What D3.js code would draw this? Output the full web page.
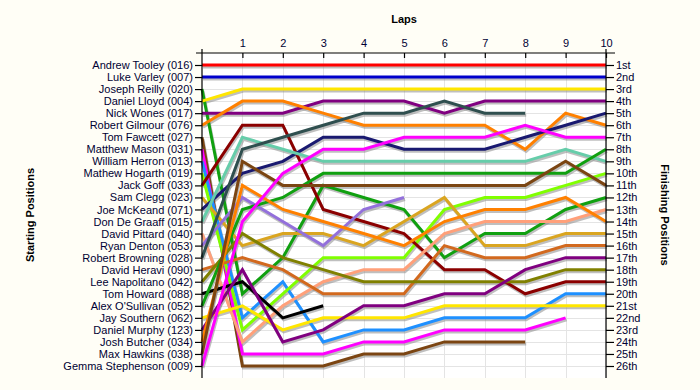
<!DOCTYPE html>
<html><head><meta charset="utf-8">
<script src="https://cdn.jsdelivr.net/npm/d3@7"></script>
<style>
html,body{margin:0;padding:0;background:#fffef6;}
svg{display:block;}
text{font-family:"Liberation Sans",Arial,sans-serif;}
</style></head>
<body>
<svg id="chart" width="700" height="390"></svg>
<script>
const drivers = ["Andrew Tooley (016)","Luke Varley (007)","Joseph Reilly (020)","Daniel Lloyd (004)","Nick Wones (017)","Robert Gilmour (076)","Tom Fawcett (027)","Matthew Mason (031)","William Herron (013)","Mathew Hogarth (019)","Jack Goff (033)","Sam Clegg (023)","Joe McKeand (071)","Don De Graaff (015)","David Pittard (040)","Ryan Denton (053)","Robert Browning (028)","David Heravi (090)","Lee Napolitano (042)","Tom Howard (088)","Alex O'Sullivan (052)","Jay Southern (062)","Daniel Murphy (123)","Josh Butcher (034)","Max Hawkins (038)","Gemma Stephenson (009)"];
const colors = ["#ff0000","#0000cc","#10a010","#ffe600","#800080","#ff8000","#7b4512","#ff00ff","#1e90ff","#80ff00","#8b0000","#daa520","#191970","#66cdaa","#ffa07a","#9370db","#2f4f4f","#d2691e","#808000","#000000","#10a010","#ffe600","#800080","#ff8000","#7b4512","#ff00ff"];
// position of each driver at lap 0..n (lap 0 = starting grid)
const positions = [
  [1,1,1,1,1,1,1,1,1,1,1],
  [2,2,2,2,2,2,2,2,2,2,2],
  [3,20,17,11,12,13,17,15,15,13,12],
  [4,3,3,3,3,3,3,3,3,3,3],
  [5,5,5,4,4,4,5,4,4,4,4],
  [6,4,4,5,6,6,6,6,8,5,6],
  [7,26,26,26,25,25,24,24,24],
  [8,25,25,25,24,24,23,23,23,22],
  [9,22,19,24,23,23,22,22,22,20,20],
  [10,23,20,17,17,17,13,12,12,11,10],
  [11,6,6,13,14,15,18,18,20,19,19],
  [12,16,15,15,16,14,12,16,16,15,15],
  [13,10,9,7,7,8,8,8,7,6,5],
  [14,7,8,9,9,9,9,9,9,8,9],
  [15,24,21,19,18,18,15,14,14,14,13],
  [16,12,14,16,13,12],
  [17,8,7,6,5,5,4,5,5],
  [18,17,18,20,20,20,16,17,17,16,16],
  [19,15,17,18,19,19,19,19,19,18,18],
  [20,19,22,21],
  [21,13,12,10,10,10,10,10,10,10,8],
  [22,21,23,22,22,22,21,21,21,21,21],
  [23,18,24,23,21,21,20,20,18,17,17],
  [24,11,13,14,15,16,14,13,13,12,14],
  [25,9,11,11,11,11,11,11,11,9,11],
  [26,14,10,8,8,7,7,7,6,7,7]
];
const lapTicks = [1,2,3,4,5,6,7,8,9,10];
const finishLabels = ["1st","2nd","3rd","4th","5th","6th","7th","8th","9th","10th","11th","12th","13th","14th","15th","16th","17th","18th","19th","20th","21st","22nd","23rd","24th","25th","26th"];

const svg = d3.select("#chart");
const x = d3.scaleLinear().domain([0,10]).range([202,606]);
const y = d3.scaleLinear().domain([1,26]).range([65,366]);
const yTop = 53, yBottom = 378;
const rows = d3.range(1,27);

// plot background
svg.append("rect").attr("x",x(0)).attr("y",yTop).attr("width",x(10)-x(0)).attr("height",yBottom-yTop).attr("fill","#ffffff");

// grid
const grid = svg.append("g").attr("stroke","#e4e4e4").attr("stroke-width",1);
grid.selectAll("line.h").data(rows).join("line").attr("class","h")
  .attr("x1",x(0)).attr("x2",x(10)).attr("y1",d=>Math.round(y(d))+0.5).attr("y2",d=>Math.round(y(d))+0.5);
grid.selectAll("line.v").data(lapTicks).join("line").attr("class","v")
  .attr("x1",d=>Math.round(x(d))+0.5).attr("x2",d=>Math.round(x(d))+0.5).attr("y1",yTop).attr("y2",yBottom);

// lines
const line = d3.line().x((d,i)=>x(i)).y(d=>y(d)).curve(d3.curveLinear);
const shadows = svg.append("g").attr("transform","translate(1,2)");
shadows.selectAll("path").data(positions).join("path")
  .attr("d",line).attr("fill","none").attr("stroke","#8a8a8a").attr("stroke-opacity",0.55).attr("stroke-width",3);
svg.append("g").selectAll("path").data(positions).join("path")
  .attr("d",line).attr("fill","none").attr("stroke",(d,i)=>colors[i]).attr("stroke-width",3);

// axes
const ax = svg.append("g").attr("stroke","#000").attr("stroke-width",1.2);
ax.append("line").attr("x1",196).attr("x2",615).attr("y1",yTop).attr("y2",yTop);
ax.append("line").attr("x1",x(0)).attr("x2",x(0)).attr("y1",yTop-4).attr("y2",yBottom);
ax.append("line").attr("x1",x(10)).attr("x2",x(10)).attr("y1",yTop-4).attr("y2",yBottom);

const topAxis = d3.axisTop(x).tickValues(lapTicks).tickSize(-5).tickPadding(6).tickFormat(d3.format("d"));
const gt = svg.append("g").attr("transform",`translate(0,${yTop})`).call(topAxis);
gt.select(".domain").remove();

const leftAxis = d3.axisLeft(y).tickValues(rows).tickSize(7).tickPadding(2).tickFormat(d=>drivers[d-1]);
const gl = svg.append("g").attr("transform",`translate(${x(0)},0)`).call(leftAxis);
gl.select(".domain").remove();

const rightAxis = d3.axisRight(y).tickValues(rows).tickSize(8).tickPadding(2).tickFormat(d=>finishLabels[d-1]);
const gr = svg.append("g").attr("transform",`translate(${x(10)},0)`).call(rightAxis);
gr.select(".domain").remove();

[gt,gl,gr].forEach(g=>{
  g.selectAll("text").attr("font-size",11).attr("font-family","'Liberation Sans',Arial,sans-serif").attr("fill","#000033");
  g.selectAll(".tick line").attr("stroke","#000").attr("stroke-width",1.2);
});

// titles
svg.append("text").attr("x",404).attr("y",23).attr("text-anchor","middle").attr("font-size",11).attr("font-weight","bold").text("Laps");
svg.append("text").attr("transform","translate(34,215) rotate(-90)").attr("text-anchor","middle").attr("font-size",11).attr("font-weight","bold").text("Starting Positions");
svg.append("text").attr("transform","translate(661,215) rotate(90)").attr("text-anchor","middle").attr("font-size",11).attr("font-weight","bold").text("Finishing Positions");
</script>
</body></html>
